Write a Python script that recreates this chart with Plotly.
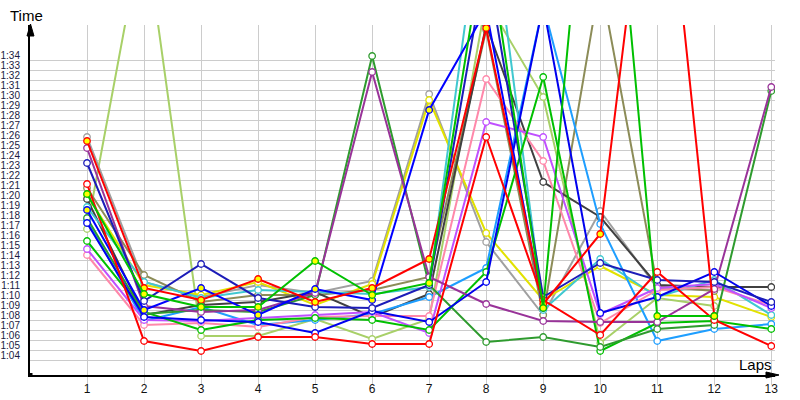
import plotly.graph_objects as go

laps = list(range(1, 14))
lap_labels = [str(l) for l in laps]
time_ticks = list(range(64, 95))
time_labels = ["1:%02d" % (t - 60) for t in time_ticks]

# lap times in seconds (values above ~97.5 run off the top of the chart)
red_y  = [85.9, 71.2, 70.0, 72.1, 69.8, 71.2, 74.1, 97.2, 69.6, 76.6, 123.0, 68.4, None]
red    = [81.6, 65.9, 64.9, 66.3, 66.3, 65.6, 65.6, 86.3, 70.0, 66.5, 72.8, 68.0, 65.4]
purple = [85.2, 69.4, 68.8, 69.0, 70.7, 92.8, 72.3, 69.6, 67.9, 67.8, 67.8, 71.1, 91.3]
forest = [78.2, 68.6, 69.0, 68.8, 70.5, 94.4, 71.5, 65.8, 66.3, 65.3, 67.1, 67.5, 90.9]
navy   = [83.7, 69.9, 73.6, 70.2, 69.3, 69.2, 71.5, 104.0, 70.3, 73.7, 72.0, 71.8, 69.8]
blue_y = [79.0, 69.0, 71.2, 68.5, 71.1, 70.0, 89.0, 99.0, 69.2, None, None, None, None]
blue2  = [77.7, 68.3, 68.0, 67.8, 66.7, 68.9, 67.8, 71.8, 99.5, 68.7, 70.3, 72.8, 69.4]
green_y = [80.6, 70.6, 69.3, 69.3, 73.9, 70.5, 71.7, 107.0, 69.2, 130.0, 68.4, 68.4, None]
dgray  = [80.1, 68.5, 69.5, 69.8, 70.8, 68.3, 70.6, 97.5, 81.8, 78.3, 71.5, 71.3, 71.3]
gray   = [86.3, 71.8, 70.3, 71.5, 70.7, 71.9, 90.6, 75.8, 68.5, 78.9, 71.2, 71.0, None]
yellow = [80.5, 71.5, 70.5, 71.8, 69.5, 71.6, 90.0, 76.7, 70.0, 73.4, 70.5, 70.3, 68.3]
olive  = [81.2, 72.5, 69.8, 70.5, 70.5, 71.0, 72.3, 97.0, 68.5, 102.0, 71.4, 70.9, None]
cyan   = [79.3, 71.8, 70.2, 71.0, 70.8, 70.6, 71.3, 113.0, 69.0, 74.1, 70.3, 72.0, 68.5]
lblue  = [78.0, 67.9, 69.3, 67.5, 68.0, 68.6, 70.3, 73.2, 99.5, 77.6, 65.9, 67.1, 67.6]
violet = [75.1, 68.0, 67.9, 68.2, 68.5, 68.8, 66.7, 87.8, 86.3, 68.6, 71.2, 71.6, 69.2]
pink   = [74.5, 67.5, 67.7, 67.3, 68.3, 68.4, 68.4, 92.1, 83.9, 67.7, 71.0, 71.3, 69.5]
lgreen = [77.1, 107.7, 66.4, 66.4, 68.1, 66.1, 68.1, 100.0, 90.3, 65.7, 70.2, 69.4, None]
green  = [75.9, 68.8, 67.0, 68.0, 68.2, 68.0, 67.0, 72.8, 92.3, 64.9, 67.7, 67.9, 67.1]

series = [
    ("lgreen", lgreen, "#a8d068", "white"),
    ("gray", gray, "#a0a0a0", "white"),
    ("yellow", yellow, "#e2e200", "white"),
    ("olive", olive, "#8c8c58", "white"),
    ("dgray", dgray, "#404040", "white"),
    ("cyan", cyan, "#40c8d0", "white"),
    ("lblue", lblue, "#1e9eff", "white"),
    ("pink", pink, "#ff88aa", "white"),
    ("violet", violet, "#c050ff", "white"),
    ("green", green, "#00c000", "white"),
    ("forest", forest, "#2e9b2e", "white"),
    ("purple", purple, "#993399", "white"),
    ("blue2", blue2, "#0000ee", "white"),
    ("navy", navy, "#1c1cb8", "white"),
    ("blue_y", blue_y, "#0000ff", "#ffff00"),
    ("red", red, "#ff0000", "white"),
    ("red_y", red_y, "#ff0000", "#ffff00"),
    ("green_y", green_y, "#00c000", "#ffff00"),
]

fig = go.Figure()
for name, vals, col, fill in series:
    fig.add_trace(go.Scatter(
        x=laps, y=vals, mode="lines+markers", name=name,
        line=dict(color=col, width=2),
        marker=dict(symbol="circle", size=6.5, color=fill, line=dict(color=col, width=1.3)),
    ))

L, R, T, B = 30, 25, 25, 25
PW, PH = 800 - L - R, 400 - T - B

def px(xp):
    return (xp - L) / PW

def py(yp):
    return (400 - B - yp) / PH

fig.update_layout(
    width=800, height=400,
    margin=dict(l=L, r=R, t=T, b=B, pad=0, autoexpand=False),
    paper_bgcolor="white", plot_bgcolor="white",
    showlegend=False,
    font=dict(family="Liberation Sans, Arial, sans-serif", color="#111"),
    xaxis=dict(
        range=[0, 13.065], tickmode="array", tickvals=laps, ticktext=lap_labels,
        showgrid=True, gridcolor="#cccccc", gridwidth=1, zeroline=False,
        showline=True, linecolor="black", linewidth=2, automargin=False,
        ticks="outside", ticklen=8, tickcolor="#cccccc", tickwidth=1,
        ticklabelstandoff=-6,
        tickfont=dict(size=12, color="#111"), fixedrange=True,
    ),
    yaxis=dict(
        range=[62.5, 97.5], tickmode="array", tickvals=time_ticks, ticktext=time_labels,
        showgrid=True, gridcolor="#cccccc", gridwidth=1, zeroline=False,
        showline=True, linecolor="black", linewidth=2, ticks="", automargin=False,
        ticklabelshift=-5, ticklabelstandoff=6,
        tickfont=dict(size=10, color="#1a1a40"), fixedrange=True,
    ),
    shapes=[
        dict(type="path", xref="paper", yref="paper",
             path="M %f,%f L %f,%f L %f,%f Z" % (px(27), py(36), px(30.5), py(24), px(34), py(36)),
             fillcolor="black", line=dict(color="black", width=1)),
        dict(type="line", xref="paper", yref="paper", x0=px(775), x1=px(770), y0=0, y1=0,
             line=dict(color="black", width=2)),
        dict(type="path", xref="paper", yref="paper",
             path="M %f,%f L %f,%f L %f,%f Z" % (px(766), py(372), px(779), py(375), px(766), py(378)),
             fillcolor="black", line=dict(color="black", width=1)),
        dict(type="rect", xref="paper", yref="paper",
             x0=px(28.5), x1=px(32.5), y0=py(373), y1=py(377),
             fillcolor="black", line=dict(width=0)),
    ],
    annotations=[
        dict(text="Time", xref="paper", yref="paper", x=px(8), y=py(15),
             xanchor="left", yanchor="middle", showarrow=False,
             font=dict(size=15, color="black")),
        dict(text="Laps", xref="paper", yref="paper", x=px(774), y=py(364),
             xanchor="right", yanchor="middle", showarrow=False,
             font=dict(size=15, color="black")),
    ],
)

fig.write_html("out.html")
